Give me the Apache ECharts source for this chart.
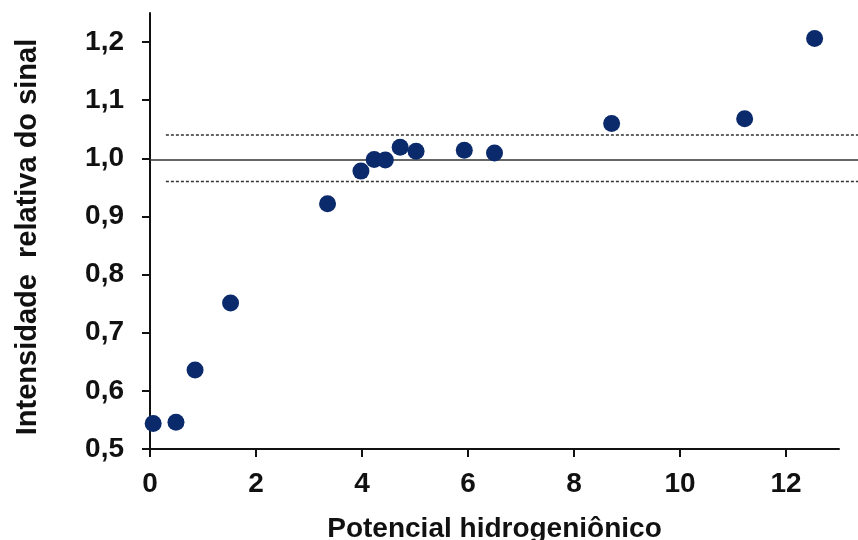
<!DOCTYPE html>
<html>
<head>
<meta charset="utf-8">
<script src="https://cdn.jsdelivr.net/npm/echarts@6/dist/echarts.min.js"></script>
<style>
html,body{margin:0;padding:0;background:#fff;}
#chart{width:858px;height:540px;}
</style>
</head>
<body>
<div id="chart"></div>
<script>
// Data
var phValues = [0.06, 0.49, 0.85, 1.52, 3.35, 3.98, 4.23, 4.44, 4.72, 5.02, 5.93, 6.50, 8.71, 11.22, 12.54];
var signalValues = [0.544, 0.546, 0.636, 0.751, 0.922, 0.978, 0.998, 0.997, 1.019, 1.012, 1.014, 1.009, 1.060, 1.068, 1.206];
var xTicks = [0, 2, 4, 6, 8, 10, 12];
var yTicks = [0.5, 0.6, 0.7, 0.8, 0.9, 1.0, 1.1, 1.2];
var refCenter = 0.997;
var refUpper = 1.04;
var refLower = 0.96;
var refCenterX = [0, 13.36];
var refBandX = [0.3, 13.36];

var points = phValues.map(function (x, i) { return [x, signalValues[i]]; });
function hline(xs, y) { return [[xs[0], y], [xs[1], y]]; }

var fontFam = "'Liberation Sans', Arial, sans-serif";
var chart = echarts.init(document.getElementById('chart'), null, {renderer: 'canvas'});
chart.setOption({
  animation: false,
  backgroundColor: '#ffffff',
  grid: [
    {left: 150, right: 19, top: 13, bottom: 91, containLabel: false, outerBoundsMode: 'none'},
    {left: 150, right: 0, top: 13, bottom: 91, containLabel: false, outerBoundsMode: 'none'}
  ],
  xAxis: [{
    type: 'value', min: 0, max: 13, gridIndex: 0,
    name: 'Potencial hidrogeniônico',
    nameLocation: 'middle', nameGap: 66,
    nameTextStyle: {fontFamily: fontFam, fontWeight: 'bold', fontSize: 28, color: '#111'},
    axisLine: {show: true, onZero: false, lineStyle: {color: '#111', width: 2}},
    axisTick: {show: true, length: 8, customValues: xTicks, lineStyle: {color: '#111', width: 2}},
    axisLabel: {customValues: xTicks, margin: 21, fontFamily: fontFam, fontWeight: 'bold', fontSize: 28, color: '#111'},
    splitLine: {show: false}
  }, {
    type: 'value', min: 0, max: 13.36, gridIndex: 1, show: false
  }],
  yAxis: [{
    type: 'value', min: 0.5, max: 1.25, gridIndex: 0,
    name: 'Intensidade  relativa do sinal',
    nameLocation: 'middle', nameGap: 108,
    nameTextStyle: {fontFamily: fontFam, fontWeight: 'bold', fontSize: 29, color: '#111', padding: [0, 12, 0, 0]},
    axisLine: {show: true, onZero: false, lineStyle: {color: '#111', width: 2}},
    axisTick: {show: true, length: 8, customValues: yTicks, lineStyle: {color: '#111', width: 2}},
    axisLabel: {
      customValues: yTicks, margin: 26, fontFamily: fontFam, fontWeight: 'bold', fontSize: 28, color: '#111',
      formatter: function (v) { return v.toFixed(1).replace('.', ','); }
    },
    splitLine: {show: false}
  }, {
    type: 'value', min: 0.5, max: 1.25, gridIndex: 1, show: false
  }],
  series: [
    {type: 'line', xAxisIndex: 1, yAxisIndex: 1, data: hline(refCenterX, refCenter), symbol: 'none', silent: true, z: 1,
     lineStyle: {color: '#333', width: 1.5, type: 'solid'}},
    {type: 'line', xAxisIndex: 1, yAxisIndex: 1, data: hline(refBandX, refUpper), symbol: 'none', silent: true, z: 1,
     lineStyle: {color: '#333', width: 1.5, type: [3, 2]}},
    {type: 'line', xAxisIndex: 1, yAxisIndex: 1, data: hline(refBandX, refLower), symbol: 'none', silent: true, z: 1,
     lineStyle: {color: '#333', width: 1.5, type: [3, 2]}},
    {type: 'scatter', xAxisIndex: 0, yAxisIndex: 0, data: points, symbol: 'circle', symbolSize: 17, z: 5,
     itemStyle: {color: '#0b2a6c', opacity: 1}}
  ]
});
</script>
</body>
</html>
